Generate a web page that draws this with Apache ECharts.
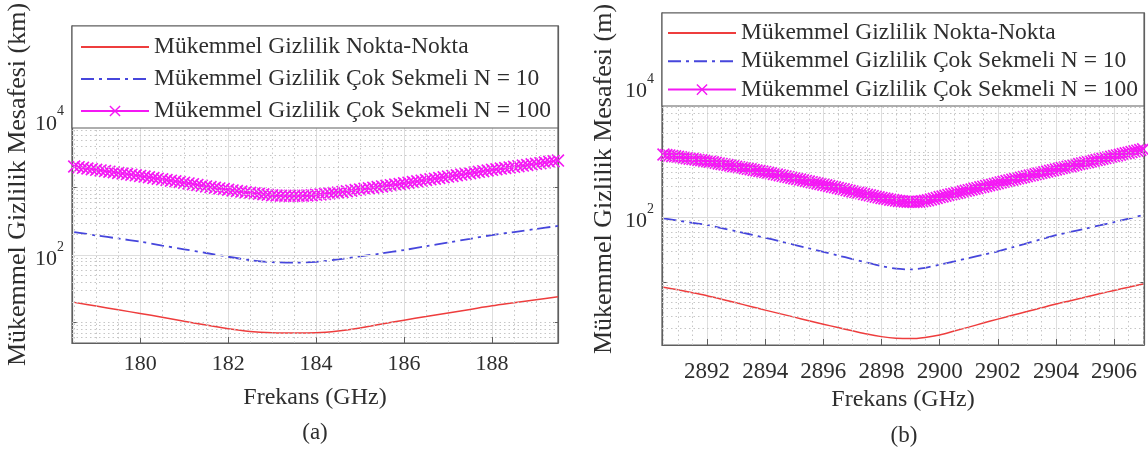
<!DOCTYPE html>
<html>
<head>
<meta charset="utf-8">
<script src="https://cdn.jsdelivr.net/npm/echarts@6/dist/echarts.min.js"></script>
<style>
  html, body { margin: 0; padding: 0; background: #ffffff; }
  #chart { width: 1148px; height: 452px; }
</style>
</head>
<body>
<div id="chart"></div>
<script>
// Series names shared by both panels
const seriesNames = [
  'Mükemmel Gizlilik Nokta-Nokta',
  'Mükemmel Gizlilik Çok Sekmeli N = 10',
  'Mükemmel Gizlilik Çok Sekmeli N = 100'
];

// Panel (a): 183 GHz band, distances in km
const freqA = [178.5, 179, 179.5, 180, 180.5, 181, 181.5, 182, 182.5, 183, 183.5, 184,
               184.5, 185, 185.5, 186, 186.5, 187, 187.5, 188, 188.5, 189, 189.5];
const pointToPointA = [19.95, 17.58, 15.49, 13.68, 12.02, 10.47, 9.23, 8.13, 7.41, 7.08, 7.0, 7.06,
                       7.50, 8.32, 9.55, 10.89, 12.30, 13.9, 15.70, 17.74, 19.72, 21.88, 24.1];
const multiHop10A = [218.8, 195, 175.8, 157.4, 138, 121.6, 107.2, 94.4, 84.1, 78.5, 77.1, 79.4,
                     86.1, 95.5, 105.9, 118.6, 134.9, 153.1, 173.8, 197.7, 218.8, 242.7, 269.2];
// N = 100 curve, sampled every 0.1 GHz from 178.5 GHz
const hopFreqStartA = 178.5;
const multiHop100A = [
  2042, 1995, 1950, 1905, 1862, 1820, 1782, 1746, 1710, 1675,
  1641, 1607, 1574, 1542, 1510, 1479, 1445, 1413, 1380, 1349,
  1318, 1288, 1259, 1230, 1202, 1175, 1146, 1117, 1089, 1062,
  1035, 1012, 989, 966, 944, 923, 904, 885, 867, 849,
  832, 818, 805, 793, 780, 767, 760, 755, 752, 750,
  750, 752, 755, 760, 767, 776, 789, 802, 815, 828,
  841, 859, 877, 895, 914, 933, 953, 973, 993, 1014,
  1035, 1057, 1079, 1102, 1125, 1148, 1175, 1202, 1230, 1259,
  1288, 1318, 1349, 1380, 1413, 1445, 1479, 1514, 1549, 1585,
  1622, 1660, 1698, 1738, 1778, 1820, 1858, 1897, 1936, 1977,
  2018, 2061, 2104, 2148, 2193, 2239, 2286, 2339, 2388, 2443,
  2495
];

// Panel (b): 2.9 THz band, distances in m
const freqB = [2890.5, 2891, 2891.5, 2892, 2892.5, 2893, 2893.5, 2894, 2894.5, 2895, 2895.5, 2896,
               2896.5, 2897, 2897.5, 2898, 2898.5, 2899, 2899.5, 2900, 2900.5, 2901, 2901.5, 2902,
               2902.5, 2903, 2903.5, 2904, 2904.5, 2905, 2905.5, 2906, 2906.5, 2907];
const pointToPointB = [8.51, 7.76, 7.0, 6.31, 5.56, 4.90, 4.31, 3.78, 3.34, 2.95, 2.60, 2.30,
                       2.04, 1.82, 1.62, 1.48, 1.40, 1.38, 1.44, 1.57, 1.80, 2.07, 2.39, 2.75,
                       3.15, 3.59, 4.10, 4.68, 5.28, 5.96, 6.73, 7.59, 8.51, 9.55];
const multiHop10B = [97.7, 90.2, 83.2, 77.1, 68.9, 61.7, 55.0, 49.0, 43.3, 38.2, 33.7, 29.7,
                     26.2, 23.1, 20.4, 18.0, 16.4, 16.0, 16.9, 18.9, 21.2, 23.9, 26.9, 30.2,
                     34.9, 40.3, 46.6, 53.7, 60.3, 67.6, 75.9, 85.1, 96.6, 109.6];
// N = 100 curve, sampled every 0.1 GHz from 2890.5 GHz
const hopFreqStartB = 2890.5;
const multiHop100B = [
  933, 918, 904, 889, 875, 861, 847, 834, 820, 807,
  794, 783, 771, 760, 748, 738, 724, 710, 697, 682,
  670, 658, 644, 632, 619, 608, 597, 585, 574, 562,
  552, 542, 531, 521, 511, 501, 490, 480, 469, 459,
  449, 439, 430, 420, 410, 401, 392, 384, 375, 367,
  359, 351, 344, 336, 329, 321, 314, 306, 299, 292,
  285, 279, 272, 265, 259, 253, 247, 242, 236, 230,
  225, 220, 215, 210, 205, 201, 197, 193, 189, 186,
  183, 180, 178, 177, 175, 175, 174, 175, 176, 178,
  181, 185, 190, 195, 200, 207, 211, 217, 222, 228,
  233, 239, 245, 251, 258, 264, 271, 278, 284, 292,
  299, 307, 315, 322, 330, 339, 348, 356, 365, 373,
  383, 392, 402, 411, 422, 432, 443, 453, 465, 475,
  488, 499, 512, 524, 537, 550, 562, 577, 590, 605,
  619, 634, 649, 665, 681, 697, 713, 731, 748, 767,
  785, 804, 822, 843, 863, 883, 904, 927, 948, 973,
  995, 1019, 1045, 1069, 1096, 1122
];
const hopFreqStep = 0.1;

// Axis ranges
const xRangeA = [178.45, 189.5];
const xRangeB = [2890.45, 2907.03];
const yRangeA = [5, 244000];
const yRangeB = [1.1, 140000];
const labelledDecades = [2, 4];

const SERIF = 'Liberation Serif';
const FRAME = '#5f5f5f';
const TEXT = '#2e2e2e';
const MAJOR_GRID = '#dedede';
const MINOR_GRID = '#c6c6c6';
const MAGENTA = '#f418f4';
const X_MARK = 'path://M0,0.9L0.9,0L5,4.1L9.1,0L10,0.9L5.9,5L10,9.1L9.1,10L5,5.9L0.9,10L0,9.1L4.1,5Z';

const zip = (xs, ys) => xs.map((x, i) => [x, ys[i]]);
const sampled = (start, ys) => ys.map((y, i) => [+(start + i * hopFreqStep).toFixed(2), y]);

// Decade labels written as 10 with a raised exponent
function decadeLabel(v) {
  const e = Math.round(Math.log10(v));
  if (Math.abs(v - Math.pow(10, e)) > 1e-6 * v) return '';
  return labelledDecades.indexOf(e) >= 0 ? '{b|10}{s|' + e + '}' : '';
}
function evenTickLabel(v) {
  const r = Math.round(v);
  return (Math.abs(v - r) < 1e-6 && r % 2 === 0) ? String(r) : '';
}

// Grid lines of a log-y / linear-x panel: solid on even decades,
// dotted on the 2..9 sub-decades and on the half-GHz steps
function gridLines(xRange, yRange) {
  const lines = [];
  const solid = { color: MAJOR_GRID, width: 1, type: 'solid' };
  const dotted = { color: MINOR_GRID, width: 1, type: [1.5, 3] };
  for (let e = Math.floor(Math.log10(yRange[0])); e <= Math.ceil(Math.log10(yRange[1])); e++) {
    for (let m = 1; m <= 9; m++) {
      const v = m * Math.pow(10, e);
      if (v <= yRange[0] || v >= yRange[1]) continue;
      const major = m === 1 && e % 2 === 0;
      lines.push({ yAxis: v, lineStyle: major ? solid : dotted });
    }
  }
  for (let f = Math.ceil(xRange[0] * 2) / 2; f < xRange[1]; f += 0.5) {
    if (f <= xRange[0]) continue;
    const isMajor = Math.abs(f - Math.round(f)) < 1e-9 && Math.round(f) % 2 === 0;
    if (!isMajor) lines.push({ xAxis: f, lineStyle: dotted });
  }
  return lines;
}

function gridSeries(idx, xRange, yRange) {
  return {
    type: 'line', xAxisIndex: idx, yAxisIndex: idx, data: [], silent: true, z: 1,
    markLine: {
      silent: true, symbol: ['none', 'none'], animation: false,
      label: { show: false }, emphasis: { disabled: true },
      data: gridLines(xRange, yRange)
    }
  };
}

function curveSeries(idx, xs, a, b, hopStart, c) {
  return [
    {
      name: seriesNames[0], type: 'line', xAxisIndex: idx, yAxisIndex: idx, z: 3,
      data: zip(xs, a), showSymbol: false, symbol: 'none', smooth: 0.3,
      lineStyle: { color: '#ee3d3d', width: 1.5 }, itemStyle: { color: '#ee3d3d' }
    },
    {
      name: seriesNames[1], type: 'line', xAxisIndex: idx, yAxisIndex: idx, z: 3,
      data: zip(xs, b), showSymbol: false, symbol: 'none', smooth: 0.3,
      lineStyle: { color: '#4646dc', width: 1.8, type: [13, 5, 3, 5] }, itemStyle: { color: '#4646dc' }
    },
    {
      name: seriesNames[2], type: 'line', xAxisIndex: idx, yAxisIndex: idx, z: 4,
      data: sampled(hopStart, c), symbol: X_MARK, symbolSize: 13, showAllSymbol: true,
      lineStyle: { color: MAGENTA, width: 1.2 }, itemStyle: { color: MAGENTA }
    }
  ];
}

function xAxisOf(idx, range, splitNumber, labelMargin, fontSize) {
  return {
    type: 'value', gridIndex: idx, min: range[0], max: range[1], splitNumber: splitNumber,
    name: 'Frekans (GHz)', nameLocation: 'middle', nameGap: 43,
    nameTextStyle: { fontFamily: SERIF, fontSize: 24, color: TEXT },
    axisLine: { show: true, onZero: false, lineStyle: { color: FRAME, width: 1.2 } },
    axisTick: { show: true, inside: true, length: 6, lineStyle: { color: FRAME } },
    axisLabel: { formatter: evenTickLabel, margin: labelMargin, fontFamily: SERIF, fontSize: fontSize, color: TEXT },
    splitLine: { show: true, lineStyle: { color: MAJOR_GRID, width: 1 } }
  };
}

function yAxisOf(idx, range, title, nameGap) {
  return {
    type: 'log', logBase: 10, gridIndex: idx, min: range[0], max: range[1],
    name: title, nameLocation: 'middle', nameGap: nameGap, nameRotate: 90,
    nameTextStyle: { fontFamily: SERIF, fontSize: 26, color: TEXT },
    axisLine: { show: true, lineStyle: { color: FRAME, width: 1.2 } },
    axisTick: { show: true, inside: true, length: 5, lineStyle: { color: FRAME } },
    axisLabel: {
      formatter: decadeLabel, margin: 8, color: TEXT,
      rich: {
        b: { fontFamily: SERIF, fontSize: 22, color: TEXT, verticalAlign: 'bottom', lineHeight: 30 },
        s: { fontFamily: SERIF, fontSize: 14, color: TEXT, verticalAlign: 'top', lineHeight: 14 }
      }
    },
    splitLine: { show: false }
  };
}

// Mirror axis on the right edge of the box, carrying inward ticks only
function rightAxisOf(idx, range) {
  return {
    type: 'log', logBase: 10, gridIndex: idx, min: range[0], max: range[1], position: 'right',
    axisLine: { show: true, lineStyle: { color: FRAME, width: 1.2 } },
    axisTick: { show: true, inside: true, length: 5, lineStyle: { color: FRAME } },
    axisLabel: { show: false }, splitLine: { show: false }
  };
}

function legendOf(left, top, rowHeight, gap) {
  return {
    data: [
      { name: seriesNames[0], itemStyle: { opacity: 0 } },
      { name: seriesNames[1], itemStyle: { opacity: 0 } },
      { name: seriesNames[2] }
    ],
    orient: 'vertical', left: left, top: top, padding: 0,
    itemWidth: 68, itemHeight: 14, itemGap: gap, selectedMode: false, z: 20,
    textStyle: { fontFamily: SERIF, fontSize: 23.5, color: TEXT, lineHeight: rowHeight }
  };
}

const chart = echarts.init(document.getElementById('chart'), null, { renderer: 'canvas' });
chart.setOption({
  animation: false,
  backgroundColor: '#ffffff',
  grid: [
    { left: 72, top: 26, width: 486, height: 317, show: true, borderColor: FRAME, borderWidth: 1.2, backgroundColor: 'transparent' },
    { left: 662, top: 13, width: 482, height: 332, show: true, borderColor: FRAME, borderWidth: 1.2, backgroundColor: 'transparent' }
  ],
  xAxis: [
    xAxisOf(0, xRangeA, 5, 10, 22),
    xAxisOf(1, xRangeB, 8, 15, 23)
  ],
  yAxis: [
    yAxisOf(0, yRangeA, 'Mükemmel Gizlilik Mesafesi (km)', 40),
    yAxisOf(1, yRangeB, 'Mükemmel Gizlilik Mesafesi (m)', 45),
    rightAxisOf(0, yRangeA),
    rightAxisOf(1, yRangeB)
  ],
  legend: [
    legendOf(80, 34, 26, 6),
    legendOf(667, 21, 24, 4.3)
  ],
  graphic: [
    { type: 'rect', z: 15, shape: { x: 72, y: 26, width: 486, height: 102 }, style: { fill: '#fff', stroke: FRAME, lineWidth: 1.2 } },
    { type: 'rect', z: 15, shape: { x: 662, y: 13, width: 482, height: 93 }, style: { fill: '#fff', stroke: FRAME, lineWidth: 1.2 } },
    { type: 'text', z: 15, x: 315, y: 433, style: { text: '(a)', font: '23px "Liberation Serif"', fill: TEXT, textAlign: 'center', textVerticalAlign: 'middle' } },
    { type: 'text', z: 15, x: 904, y: 436, style: { text: '(b)', font: '23px "Liberation Serif"', fill: TEXT, textAlign: 'center', textVerticalAlign: 'middle' } }
  ],
  series: [
    gridSeries(0, xRangeA, yRangeA),
    gridSeries(1, xRangeB, yRangeB),
    ...curveSeries(0, freqA, pointToPointA, multiHop10A, hopFreqStartA, multiHop100A),
    ...curveSeries(1, freqB, pointToPointB, multiHop10B, hopFreqStartB, multiHop100B)
  ]
});
</script>
</body>
</html>
